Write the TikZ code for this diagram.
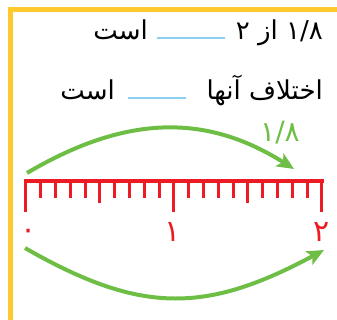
\documentclass[tikz,border=0pt]{standalone}
\usepackage{fontspec}
\usetikzlibrary{arrows.meta}
\TeXXeTstate=1
\newfontfamily\arabicfont[Script=Arabic]{DejaVu Sans}
\definecolor{frameyellow}{RGB}{255,200,44}
\definecolor{rulerred}{RGB}{237,28,36}
\definecolor{arcgreen}{RGB}{110,190,70}
\definecolor{blankblue}{RGB}{140,208,238}
\tikzset{
  frameline/.style={draw=frameyellow,line width=4.5pt,line join=miter},
  rulerbar/.style={draw=rulerred,line width=4pt},
  tickline/.style={draw=rulerred,line width=3pt},
  blankline/.style={draw=blankblue,line width=1.5pt},
  jumparc/.style={draw=arcgreen,line width=4pt,-{Stealth[length=17pt,width=15pt,inset=4pt]}},
  txt/.style={inner sep=0pt,font=\arabicfont\fontsize{26}{30}\selectfont},
  numlabel/.style={inner sep=0pt,text=rulerred,font=\arabicfont\fontsize{30}{34}\selectfont},
  steplabel/.style={inner sep=0pt,text=arcgreen,font=\arabicfont\fontsize{28}{32}\selectfont}
}
\begin{document}
\begin{tikzpicture}[x=1pt,y=-1pt]
\useasboundingbox (0,0) rectangle (337,320);
% frame
\draw[frameline] (10.5,320) -- (10.5,9.5) -- (337,9.5);
% line 1
\node[txt,anchor=base east] (l1a) at (323,40) {\beginR ۱/۸ از ۲\endR};
\node[txt,anchor=base east] (l1b) at (148,40) {\beginR است\endR};
\draw[blankline] (157,38) -- (225,38);
% line 2
\node[txt,anchor=base east] (l2a) at (323,100) {\beginR اختلاف آنها\endR};
\node[txt,anchor=base east] (l2b) at (115,100) {\beginR است\endR};
\draw[blankline] (128,98) -- (186,98);
% ruler
\draw[rulerbar] (24,181) -- (323.5,181);
\foreach \i in {0,...,20}{
  \pgfmathsetmacro{\xx}{25.8+14.8*\i}
  \ifnum\i=0 \def\yy{212}\else
  \ifnum\i=10 \def\yy{212}\else
  \ifnum\i=20 \def\yy{212}\else
  \ifnum\i=5 \def\yy{203}\else
  \ifnum\i=15 \def\yy{203}\else
  \def\yy{198}\fi\fi\fi\fi\fi
  \draw[tickline] (\xx,181) -- (\xx,\yy);
}
% numbers
\node[numlabel,anchor=base] (n0) at (28.3,240) {۰};
\node[numlabel,anchor=base] (n1) at (173,241) {۱};
\node[numlabel,anchor=base] (n2) at (322,241) {۲};
% arcs
\coordinate (t0) at (27,173);
\coordinate (t1) at (294,169);
\draw[jumparc] (t0) .. controls (127,114) and (207,114) .. (t1);
\node[steplabel,anchor=base] (s1) at (280,142) {۱/۸};
\coordinate (b0) at (25,248);
\coordinate (b1) at (324,250);
\draw[jumparc] (b0) .. controls (140,314) and (205,314) .. (b1);
\end{tikzpicture}
\end{document}
